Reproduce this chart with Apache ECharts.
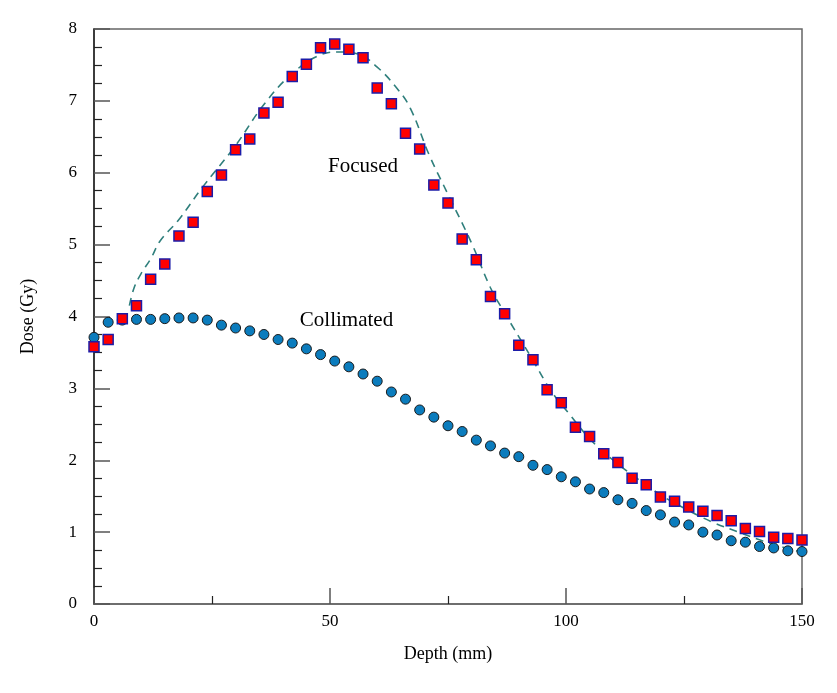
<!DOCTYPE html>
<html>
<head>
<meta charset="utf-8">
<script src="https://cdn.jsdelivr.net/npm/echarts@6/dist/echarts.min.js"></script>
<style>
  html, body { margin: 0; padding: 0; background: #fff; }
  #chart { width: 837px; height: 693px; }
</style>
</head>
<body>
<div id="chart"></div>
<script>
// depth positions of the measured points (mm)
var depth = [0, 3, 6, 9, 12, 15, 18, 21, 24, 27, 30, 33, 36, 39, 42, 45, 48, 51, 54, 57,
             60, 63, 66, 69, 72, 75, 78, 81, 84, 87, 90, 93, 96, 99, 102, 105, 108, 111, 114, 117,
             120, 123, 126, 129, 132, 135, 138, 141, 144, 147, 150];

var focusedDose = [3.58, 3.68, 3.97, 4.15, 4.52, 4.73, 5.12, 5.31, 5.74, 5.97, 6.32, 6.47, 6.83, 6.98, 7.34, 7.51, 7.74, 7.79, 7.72, 7.60,
                   7.18, 6.96, 6.55, 6.33, 5.83, 5.58, 5.08, 4.79, 4.28, 4.04, 3.60, 3.40, 2.98, 2.80, 2.46, 2.33, 2.09, 1.97, 1.75, 1.66,
                   1.49, 1.43, 1.35, 1.29, 1.23, 1.16, 1.05, 1.01, 0.93, 0.91, 0.89];

var collimatedDose = [3.71, 3.92, 3.95, 3.96, 3.96, 3.97, 3.98, 3.98, 3.95, 3.88, 3.84, 3.80, 3.75, 3.68, 3.63, 3.55, 3.47, 3.38, 3.30, 3.20,
                      3.10, 2.95, 2.85, 2.70, 2.60, 2.48, 2.40, 2.28, 2.20, 2.10, 2.05, 1.93, 1.87, 1.77, 1.70, 1.60, 1.55, 1.45, 1.40, 1.30,
                      1.24, 1.14, 1.10, 1.00, 0.96, 0.88, 0.86, 0.80, 0.78, 0.74, 0.73];

// calculated curve (dashed)
var calcDepth = [7.5, 8.5, 10, 12, 14, 18, 23, 30, 36, 42, 48, 52, 56, 60, 64, 67, 71, 75, 80, 84,
                 87, 93, 97, 101, 105, 110, 115, 120, 126, 131, 137, 142, 147, 150];
var calcDose = [4.15, 4.4, 4.6, 4.8, 5.05, 5.35, 5.8, 6.38, 6.95, 7.38, 7.64, 7.68, 7.65, 7.47, 7.19, 6.9, 6.25, 5.7, 5.02, 4.4,
                4.05, 3.39, 2.95, 2.62, 2.3, 2.0, 1.75, 1.52, 1.30, 1.14, 0.99, 0.87, 0.77, 0.72];

var labelText = ['Focused', 'Collimated'];
var labelPos = [[57, 6.09], [53.5, 3.95]];

function pairs(xs, ys) {
    var out = [];
    for (var i = 0; i < xs.length; i++) out.push([xs[i], ys[i]]);
    return out;
}

var myChart = echarts.init(document.getElementById('chart'));
var serif = 'Liberation Serif';

var option = {
    animation: false,
    textStyle: { fontFamily: serif },
    grid: {
        left: 94,
        right: 35,
        top: 29,
        bottom: 89,
        show: true,
        borderColor: '#666',
        borderWidth: 1.5,
        containLabel: false
    },
    xAxis: {
        type: 'value',
        min: 0,
        max: 150,
        interval: 50,
        name: 'Depth (mm)',
        nameLocation: 'middle',
        nameGap: 41,
        nameTextStyle: { color: '#000', fontSize: 18, fontFamily: serif },
        axisLine: { lineStyle: { color: '#666', width: 1.5 } },
        axisTick: { inside: true, length: 16, lineStyle: { color: '#555', width: 1.5 } },
        minorTick: { show: true, splitNumber: 2, length: 8, lineStyle: { color: '#222', width: 1.2 } },
        axisLabel: { color: '#000', fontSize: 17, fontFamily: serif, margin: 9 },
        splitLine: { show: false }
    },
    yAxis: {
        type: 'value',
        min: 0,
        max: 8,
        interval: 1,
        name: 'Dose (Gy)',
        nameLocation: 'middle',
        nameGap: 57,
        nameTextStyle: { color: '#000', fontSize: 18, fontFamily: serif },
        axisLine: { lineStyle: { color: '#222', width: 1.5 } },
        axisTick: { inside: true, length: 16, lineStyle: { color: '#555', width: 1.5 } },
        minorTick: { show: true, splitNumber: 4, length: 8, lineStyle: { color: '#222', width: 1.2 } },
        axisLabel: { color: '#000', fontSize: 17, fontFamily: serif, margin: 17 },
        splitLine: { show: false }
    },
    series: [
        {
            type: 'line',
            data: pairs(calcDepth, calcDose),
            smooth: 0.4,
            showSymbol: false,
            symbol: 'none',
            lineStyle: { color: '#2f7f7c', width: 1.6, type: [8, 6] },
            z: 1
        },
        {
            type: 'scatter',
            data: pairs(depth, collimatedDose),
            symbol: 'circle',
            symbolSize: 10,
            itemStyle: { color: '#0b7cbd', borderColor: '#1a1a1a', borderWidth: 1, opacity: 1 },
            z: 3
        },
        {
            type: 'scatter',
            data: pairs(depth, focusedDose),
            symbol: 'rect',
            symbolSize: 10,
            itemStyle: { color: '#ff0000', borderColor: '#1c1ca8', borderWidth: 1.5, opacity: 1 },
            z: 4
        },
        {
            type: 'scatter',
            symbolSize: 0,
            silent: true,
            itemStyle: { opacity: 1 },
            data: labelPos.map(function (p, i) { return { value: p, name: labelText[i] }; }),
            label: {
                show: true,
                position: 'inside',
                formatter: function (p) { return p.name; },
                color: '#000',
                fontSize: 21,
                fontFamily: serif
            },
            z: 5
        }
    ]
};

myChart.setOption(option);
</script>
</body>
</html>
